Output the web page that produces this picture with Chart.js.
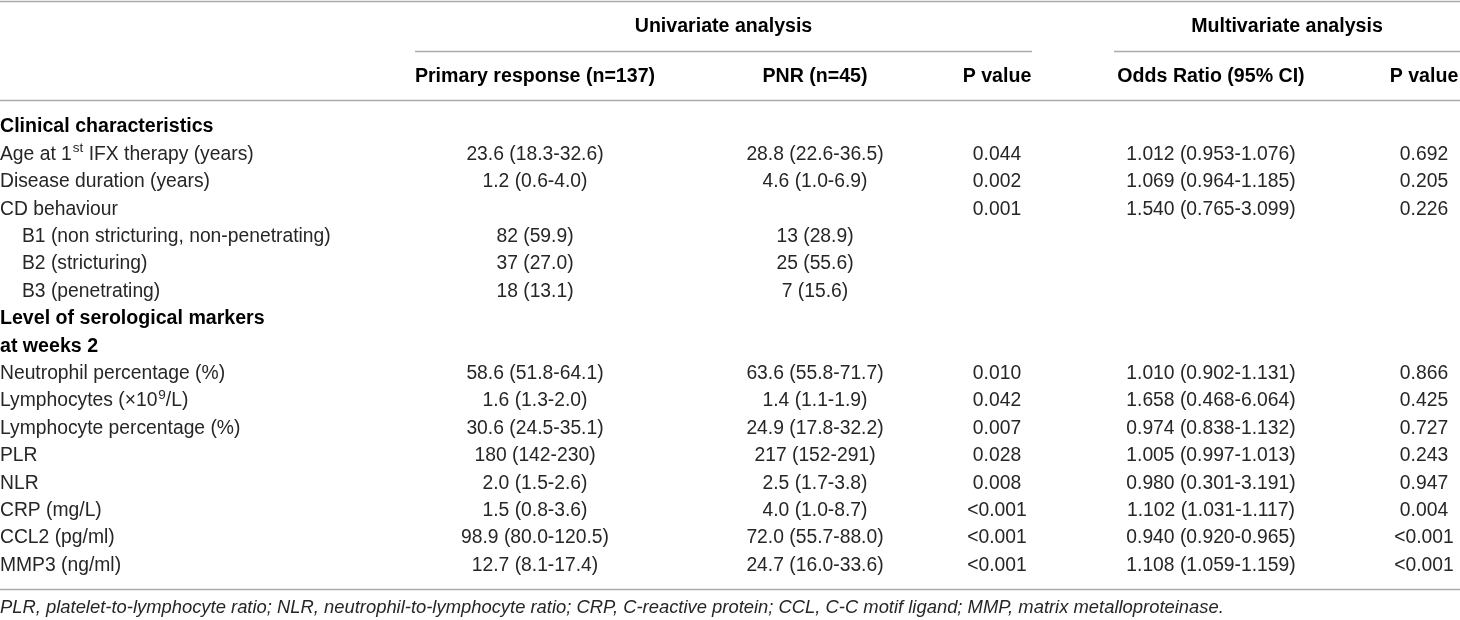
<!DOCTYPE html>
<html>
<head>
<meta charset="utf-8">
<script src="https://cdn.jsdelivr.net/npm/chart.js@4/dist/chart.umd.min.js"></script>
<style>
  html, body { margin: 0; padding: 0; background: #fff; }
  #c { display: block; }
</style>
</head>
<body>
<canvas id="c" width="1460" height="620"></canvas>
<script>
// ---------------- DATA ----------------
const groupHeaders = ["Univariate analysis", "Multivariate analysis"];
const columnHeaders = ["", "Primary response (n=137)", "PNR (n=45)", "P value", "Odds Ratio (95% CI)", "P value"];

const rowLabels = [
  "Clinical characteristics",
  "Age at 1^{st} IFX therapy (years)",
  "Disease duration (years)",
  "CD behaviour",
  "B1 (non stricturing, non-penetrating)",
  "B2 (stricturing)",
  "B3 (penetrating)",
  "Level of serological markers",
  "at weeks 2",
  "Neutrophil percentage (%)",
  "Lymphocytes (\u00d710^{9}/L)",
  "Lymphocyte percentage (%)",
  "PLR",
  "NLR",
  "CRP (mg/L)",
  "CCL2 (pg/ml)",
  "MMP3 (ng/ml)"
];
const primaryResponse = ["", "23.6 (18.3-32.6)", "1.2 (0.6-4.0)", "", "82 (59.9)", "37 (27.0)", "18 (13.1)", "", "",
  "58.6 (51.8-64.1)", "1.6 (1.3-2.0)", "30.6 (24.5-35.1)", "180 (142-230)", "2.0 (1.5-2.6)", "1.5 (0.8-3.6)", "98.9 (80.0-120.5)", "12.7 (8.1-17.4)"];
const pnr = ["", "28.8 (22.6-36.5)", "4.6 (1.0-6.9)", "", "13 (28.9)", "25 (55.6)", "7 (15.6)", "", "",
  "63.6 (55.8-71.7)", "1.4 (1.1-1.9)", "24.9 (17.8-32.2)", "217 (152-291)", "2.5 (1.7-3.8)", "4.0 (1.0-8.7)", "72.0 (55.7-88.0)", "24.7 (16.0-33.6)"];
const pUnivariate = ["", "0.044", "0.002", "0.001", "", "", "", "", "",
  "0.010", "0.042", "0.007", "0.028", "0.008", "<0.001", "<0.001", "<0.001"];
const oddsRatio = ["", "1.012 (0.953-1.076)", "1.069 (0.964-1.185)", "1.540 (0.765-3.099)", "", "", "", "", "",
  "1.010 (0.902-1.131)", "1.658 (0.468-6.064)", "0.974 (0.838-1.132)", "1.005 (0.997-1.013)", "0.980 (0.301-3.191)", "1.102 (1.031-1.117)", "0.940 (0.920-0.965)", "1.108 (1.059-1.159)"];
const pMultivariate = ["", "0.692", "0.205", "0.226", "", "", "", "", "",
  "0.866", "0.425", "0.727", "0.243", "0.947", "0.004", "<0.001", "<0.001"];
const footnote = "PLR, platelet-to-lymphocyte ratio; NLR, neutrophil-to-lymphocyte ratio; CRP, C-reactive protein; CCL, C-C motif ligand; MMP, matrix metalloproteinase.";

// ---------------- LAYOUT (positions / styles) ----------------
const sectionRows = [0, 7, 8];      // bold section rows
const indentRows = [4, 5, 6];       // indented sub rows
const colX = [0, 535, 815, 997, 1211, 1424];   // column anchors (x scale units)
const groupSpans = [[415, 1032], [1114, 1460]];
const ROW_H = 27.4, ROW0 = 127;
const yOf = px => (px - ROW0) / ROW_H;   // convert layout px to row units
const headerRowY = [yOf(27), yOf(77)];
const rules = [
  { y: yOf(1), x0: 0, x1: 1460 },
  { y: yOf(51), x0: groupSpans[0][0], x1: groupSpans[0][1] },
  { y: yOf(51), x0: groupSpans[1][0], x1: groupSpans[1][1] },
  { y: yOf(100), x0: 0, x1: 1460 },
  { y: yOf(589), x0: 0, x1: 1460 }
];
const footY = yOf(608);
const FONT = '"Liberation Sans", Arial, Helvetica, sans-serif';
const REG = '19.3px ' + FONT, BOLD = 'bold 19.6px ' + FONT, ITAL = 'italic 18.4px ' + FONT;
const TXT = '#262626', RULE = '#ababab';

const columns = [rowLabels, primaryResponse, pnr, pUnivariate, oddsRatio, pMultivariate];

// ---------------- helpers ----------------
function parseSegs(s) {
  const out = []; const re = /\^\{([^}]*)\}/g; let last = 0, m;
  while ((m = re.exec(s))) {
    if (m.index > last) out.push({ t: s.slice(last, m.index), sup: false });
    out.push({ t: m[1], sup: true }); last = re.lastIndex;
  }
  if (last < s.length) out.push({ t: s.slice(last), sup: false });
  return out;
}
function drawRich(ctx, s, x, y, font, align, color) {
  const size = parseFloat(font.match(/([\d.]+)px/)[1]);
  const supFont = font.replace(/[\d.]+px/, (size * 0.7).toFixed(1) + 'px');
  const segs = parseSegs(s);
  let w = 0;
  segs.forEach(g => { ctx.font = g.sup ? supFont : font; g.w = ctx.measureText(g.t).width; w += g.w; });
  let cx = align === 'center' ? x - w / 2 : x;
  ctx.fillStyle = color; ctx.textBaseline = 'middle'; ctx.textAlign = 'left';
  segs.forEach(g => {
    ctx.font = g.sup ? supFont : font;
    ctx.fillText(g.t, cx + (g.sup ? 1 : 0), g.sup ? y - size * 0.32 : y);
    cx += g.w + (g.sup ? 1 : 0);
  });
}

// ---------------- table plugin ----------------
const tablePlugin = {
  id: 'tableText',
  afterDatasetsDraw(chart) {
    const ctx = chart.ctx, xs = chart.scales.x, ys = chart.scales.y;
    ctx.save();
    // rules
    ctx.strokeStyle = RULE; ctx.lineWidth = 1.6;
    rules.forEach(r => {
      const py = Math.round(ys.getPixelForValue(r.y)) + 0.5;
      ctx.beginPath(); ctx.moveTo(xs.getPixelForValue(r.x0), py); ctx.lineTo(xs.getPixelForValue(r.x1), py); ctx.stroke();
    });
    // group headers
    groupHeaders.forEach((h, i) => {
      const cx = xs.getPixelForValue((groupSpans[i][0] + groupSpans[i][1]) / 2);
      drawRich(ctx, h, cx, ys.getPixelForValue(headerRowY[0]), BOLD, 'center', '#000');
    });
    // column headers
    columnHeaders.forEach((h, c) => {
      if (!h) return;
      drawRich(ctx, h, xs.getPixelForValue(colX[c]), ys.getPixelForValue(headerRowY[1]), BOLD, 'center', '#000');
    });
    // cells: drawn at each point element's position
    chart.data.datasets.forEach((ds, c) => {
      const meta = chart.getDatasetMeta(c);
      meta.data.forEach((el, i) => {
        const s = columns[c][i]; if (!s) return;
        if (c === 0) {
          const bold = sectionRows.includes(i);
          const indent = indentRows.includes(i) ? 22 : 0;
          drawRich(ctx, s, el.x + indent, el.y, bold ? BOLD : REG, 'left', bold ? '#000' : TXT);
        } else {
          drawRich(ctx, s, el.x, el.y, REG, 'center', TXT);
        }
      });
    });
    // footnote
    drawRich(ctx, footnote, xs.getPixelForValue(0), ys.getPixelForValue(footY), ITAL, 'left', TXT);
    ctx.restore();
  }
};

const datasets = columns.map((col, c) => ({
  label: c === 0 ? 'Label' : columnHeaders[c],
  data: col.map((_, i) => ({ x: colX[c], y: i })),
  pointRadius: 0, pointHoverRadius: 0, showLine: false
}));

new Chart(document.getElementById('c'), {
  type: 'scatter',
  data: { datasets },
  options: {
    responsive: false, animation: false, devicePixelRatio: 1,
    layout: { padding: 0 },
    events: [],
    plugins: { legend: { display: false }, tooltip: { enabled: false } },
    scales: {
      x: { type: 'linear', display: false, min: 0, max: 1460 },
      y: { type: 'linear', display: false, reverse: true, min: yOf(0), max: yOf(620) }
    }
  },
  plugins: [tablePlugin]
});
</script>
</body>
</html>
